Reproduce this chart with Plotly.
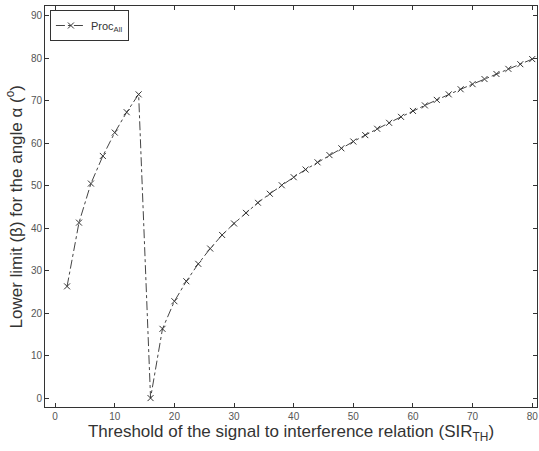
import plotly.graph_objects as go

sir_th = list(range(2, 82, 2))
beta = [26.3, 41.3, 50.5, 57.0, 62.5, 67.3, 71.5, 0.0, 16.3, 22.8,
        27.5, 31.6, 35.2, 38.4, 41.1, 43.6, 46.0, 48.1, 50.1, 52.0,
        53.8, 55.5, 57.2, 58.8, 60.4, 61.9, 63.4, 64.8, 66.2, 67.6,
        68.9, 70.2, 71.5, 72.7, 73.9, 75.1, 76.3, 77.5, 78.6, 79.8]

x_ticks = [0, 10, 20, 30, 40, 50, 60, 70, 80]
y_ticks = [0, 10, 20, 30, 40, 50, 60, 70, 80, 90]

FONT = "Liberation Sans, Arial"

fig = go.Figure()
fig.add_trace(go.Scatter(
    x=sir_th, y=beta, mode="lines+markers", name="Proc<sub>All</sub>",
    line=dict(color="#444444", width=1, dash="dashdot"),
    marker=dict(symbol="x-thin", size=6, line=dict(color="#333333", width=1), color="#333333"),
))

axis_common = dict(
    showline=True, linecolor="#333333", linewidth=1, mirror="ticks",
    ticks="inside", ticklen=4, tickcolor="#333333",
    showgrid=False, zeroline=False, automargin=False,
    tickfont=dict(family=FONT, size=10, color="#555555"),
)
fig.update_xaxes(range=[-1.7, 80.8], tickvals=x_ticks,
                 title=dict(text="Threshold of the signal to interference relation (SIR<sub>TH</sub>)",
                            font=dict(family=FONT, size=17, color="#333333"),
                            standoff=0),
                 **axis_common)
fig.update_yaxes(range=[-2.1, 92.3], tickvals=y_ticks, **axis_common)

fig.add_annotation(
    text="Lower limit (β) for the angle α (<sup>o</sup>)",
    xref="paper", yref="paper", x=0, y=0.5, xanchor="center", yanchor="middle",
    xshift=-31, textangle=-90, showarrow=False,
    font=dict(family=FONT, size=17, color="#333333"),
)

fig.update_layout(
    width=539, height=451,
    margin=dict(l=45, r=2, t=6, b=44),
    plot_bgcolor="white", paper_bgcolor="white",
    showlegend=True,
    legend=dict(x=0.01, y=0.99, xanchor="left", yanchor="top",
                bordercolor="#333333", borderwidth=1, bgcolor="white",
                itemwidth=30,
                font=dict(family=FONT, size=11, color="#333333")),
)

fig.write_html("out.html", config={"displayModeBar": False},
               post_script="document.body.style.margin='0';")
